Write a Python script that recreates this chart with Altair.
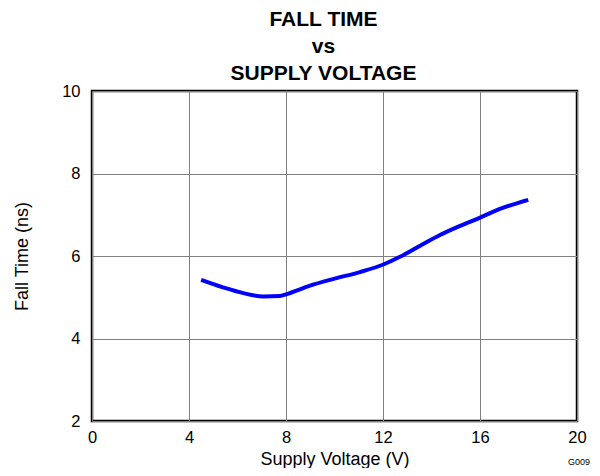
import altair as alt
import pandas as pd

supply_voltage = [4.5, 5.4, 6.24, 7.06, 7.75, 8.0, 8.99, 10.0, 11.05, 12.04, 12.7, 13.53, 14.35, 15.18, 15.96, 16.82, 17.99]
fall_time = [5.42, 5.24, 5.10, 5.02, 5.03, 5.07, 5.28, 5.45, 5.61, 5.80, 5.98, 6.25, 6.51, 6.73, 6.92, 7.14, 7.36]
x_ticks = [0, 4, 8, 12, 16, 20]
y_ticks = [2, 4, 6, 8, 10]

df = pd.DataFrame({"v": supply_voltage, "t": fall_time})

FONT = "Liberation Sans"

line = alt.Chart(df).mark_line(color="#0000FF", strokeWidth=4, interpolate="monotone").encode(
    x=alt.X("v:Q", scale=alt.Scale(domain=[0, 20], nice=False),
            axis=alt.Axis(values=x_ticks, title="Supply Voltage (V)", grid=True,
                          gridColor="#808080", gridWidth=1, gridOpacity=1,
                          ticks=False, domain=False, labelPadding=8, labelFlush=False,
                          labelFontSize=16.5, labelColor="black", labelFont=FONT,
                          titleFont=FONT, titleFontSize=18, titleFontWeight="normal",
                          titleColor="black", titlePadding=5)),
    y=alt.Y("t:Q", scale=alt.Scale(domain=[2, 10], nice=False),
            axis=alt.Axis(values=y_ticks, title="Fall Time (ns)", grid=True,
                          gridColor="#808080", gridWidth=1, gridOpacity=1,
                          ticks=False, domain=False, labelPadding=12, labelFlush=False,
                          labelFontSize=16.5, labelColor="black", labelFont=FONT,
                          titleFont=FONT, titleFontSize=18, titleFontWeight="normal",
                          titleColor="black", titlePadding=30)),
)

tag = alt.Chart(pd.DataFrame({"s": ["G009"]})).mark_text(
    font=FONT, fontSize=9, color="black", align="left", baseline="middle"
).encode(text="s:N", x=alt.value(476), y=alt.value(371))

chart = alt.layer(line, tag).properties(
    width=485, height=330,
    padding={"left": 84, "top": 83, "right": 15, "bottom": 47},
    autosize=alt.AutoSizeParams(type="none"),
    title=alt.TitleParams(text=["FALL TIME", "vs", "SUPPLY VOLTAGE"], font=FONT,
                          fontSize=21, fontWeight="bold", color="black",
                          lineHeight=27, anchor="middle", offset=-1, dx=-11),
).configure_view(stroke="black", strokeWidth=2.5)

chart.save("out.html", embed_options={"renderer": "svg", "actions": False})
